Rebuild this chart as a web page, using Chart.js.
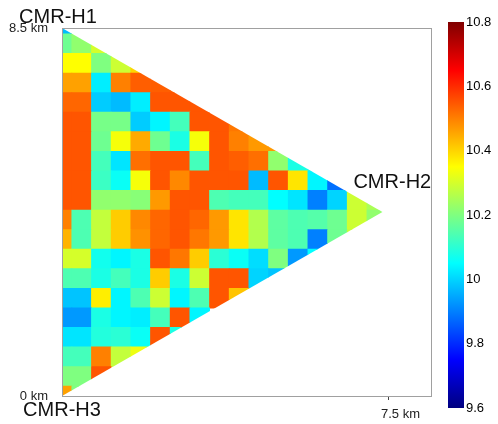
<!DOCTYPE html>
<html lang="en">
<head>
<meta charset="UTF-8">
<title>CMR triangle map</title>
<script src="https://cdn.jsdelivr.net/npm/chart.js@4/dist/chart.umd.min.js"></script>
<style>
  body { margin: 0; background: #fff; }
  #wrap { position: relative; width: 498px; height: 424px; }
  #wrap canvas { position: absolute; left: 0; top: 0; }
</style>
</head>
<body>
<div id="wrap">
  <canvas id="map" width="498" height="424"></canvas>
  <canvas id="bar" width="498" height="424"></canvas>
</div>

<script>
// grid values, top row first (y = 8.5 km side) down to y = 0; column 0 is x = 0
const cellValues = [
  [9.97],
  [10.18, 10.22, 10.30],
  [10.35, 10.35, 10.20, 10.29, 10.40],
  [10.46, 10.46, 10.03, 10.50, 10.54, 10.54, 10.54],
  [10.53, 10.53, 9.99, 9.97, 10.03, 10.55, 10.55, 10.55],
  [10.55, 10.55, 10.19, 10.19, 9.99, 10.04, 10.13, 10.55, 10.55, 10.51],
  [10.55, 10.55, 10.18, 10.34, 10.45, 10.18, 10.08, 10.34, 10.55, 10.50, 10.47, 10.47],
  [10.55, 10.55, 10.13, 10.02, 10.52, 10.55, 10.55, 10.13, 10.55, 10.54, 10.52, 10.22, 10.08, 10.08],
  [10.55, 10.55, 10.12, 10.06, 10.34, 10.55, 10.49, 10.55, 10.55, 10.55, 9.97, 10.55, 10.38, 10.04, 9.88],
  [10.55, 10.55, 10.22, 10.22, 10.21, 10.47, 10.55, 10.55, 10.14, 10.13, 10.13, 10.05, 10.02, 9.90, 10.00, 10.29, 10.25],
  [10.50, 10.14, 10.28, 10.41, 10.49, 10.53, 10.55, 10.53, 10.47, 10.38, 10.26, 10.16, 10.14, 10.15, 10.18, 10.29, 10.22],
  [10.44, 10.14, 10.28, 10.41, 10.48, 10.53, 10.55, 10.51, 10.47, 10.38, 10.26, 10.16, 10.14, 9.90, 10.18, 10.28],
  [10.30, 10.30, 10.07, 10.04, 10.08, 10.55, 10.51, 10.41, 10.10, 10.06, 10.01, 10.20, 9.93, 10.05],
  [10.14, 10.14, 10.08, 10.13, 10.08, 10.41, 10.08, 10.29, 10.55, 10.55, 10.00, 9.98],
  [9.98, 9.98, 10.37, 10.04, 10.14, 10.29, 10.04, 10.14, 10.55, 10.42],
  [9.93, 9.93, 10.08, 10.04, 10.03, 10.13, 10.55, 10.04],
  [10.02, 10.02, 10.09, 10.10, 10.06, 10.55, 10.08],
  [10.13, 10.13, 10.50, 10.28, 10.33],
  [10.20, 10.20, 10.55],
  [10.46, 10.20]
];
const cellStep = 0.452;           // km between grid nodes
const side = 8.5;                 // km, triangle side
const stations = ['CMR-H1', 'CMR-H2', 'CMR-H3'];
const xTicks = [7.5];
const yTicks = [0, 8.5];
const cbMin = 9.6, cbMax = 10.8;
const cbTicks = [9.6, 9.8, 10, 10.2, 10.4, 10.6, 10.8];

Chart.defaults.font.family = "'Liberation Sans', Arial, sans-serif";

function jet(v) {
  const t = Math.min(1, Math.max(0, (v - cbMin) / (cbMax - cbMin)));
  const c = f => Math.round(255 * Math.min(1, Math.max(0, f)));
  const r = c(Math.min(4 * t - 1.5, -4 * t + 4.5));
  const g = c(Math.min(4 * t - 0.5, -4 * t + 3.5));
  const b = c(Math.min(4 * t + 0.5, -4 * t + 2.5));
  return `rgb(${r},${g},${b})`;
}

const points = [];
const nRows = cellValues.length;
cellValues.forEach((row, i) => {
  const j = nRows - 1 - i;
  row.forEach((v, k) => {
    if (v != null) points.push({ x: k * cellStep, y: j * cellStep, v: v });
  });
});

const tip = { x: side * Math.sqrt(3) / 2, y: side / 2 };

const triangleClip = {
  id: 'triangleClip',
  beforeDatasetsDraw(chart) {
    const { ctx, scales: { x, y } } = chart;
    ctx.save();
    ctx.beginPath();
    ctx.moveTo(x.getPixelForValue(0), y.getPixelForValue(0));
    ctx.lineTo(x.getPixelForValue(0), y.getPixelForValue(side));
    ctx.lineTo(x.getPixelForValue(tip.x), y.getPixelForValue(tip.y));
    ctx.closePath();
    ctx.clip();
  },
  afterDatasetsDraw(chart) {
    chart.ctx.restore();
  },
  afterDraw(chart) {
    const { ctx, chartArea: a, scales: { x, y } } = chart;
    ctx.save();
    ctx.strokeStyle = '#a0a0a0';
    ctx.lineWidth = 1;
    ctx.strokeRect(a.left + 0.5, a.top + 0.5, a.right - a.left - 1, a.bottom - a.top);
    // station names at the triangle corners
    ctx.fillStyle = '#111';
    ctx.font = "20px 'Liberation Sans', Arial, sans-serif";
    ctx.textBaseline = 'alphabetic';
    ctx.textAlign = 'center';
    ctx.fillText(stations[0], x.getPixelForValue(0) - 4, y.getPixelForValue(side) - 5);
    ctx.fillText(stations[2], x.getPixelForValue(0), y.getPixelForValue(0) + 20);
    ctx.textAlign = 'left';
    ctx.fillText(stations[1], x.getPixelForValue(tip.x) - 29, y.getPixelForValue(tip.y) - 24);
    ctx.restore();
  }
};

new Chart(document.getElementById('map'), {
  type: 'scatter',
  data: {
    datasets: [{
      data: points,
      pointStyle: 'rect',
      borderWidth: 0,
      backgroundColor: c => jet(c.raw.v),
      pointRadius: c => {
        const s = c.chart.scales.x;
        const px = Math.abs(s.getPixelForValue(cellStep) - s.getPixelForValue(0));
        return (px + 0.8) / Math.SQRT2;
      },
      pointHoverRadius: c => {
        const s = c.chart.scales.x;
        const px = Math.abs(s.getPixelForValue(cellStep) - s.getPixelForValue(0));
        return (px + 0.8) / Math.SQRT2;
      }
    }]
  },
  options: {
    responsive: false,
    animation: false,
    devicePixelRatio: 1,
    layout: { padding: { left: 0, top: 28, right: 66, bottom: 0 } },
    plugins: { legend: { display: false }, tooltip: { enabled: false } },
    scales: {
      x: {
        type: 'linear', min: 0, max: side,
        afterBuildTicks: s => { s.ticks = xTicks.map(v => ({ value: v })); },
        afterFit: s => { s.height = 28; },
        ticks: {
          callback: v => v + ' km',
          font: { size: 13 }, color: '#222',
          padding: 7, labelOffset: 12, maxRotation: 0
        },
        grid: { display: true, drawOnChartArea: false, drawTicks: true, tickLength: 4, color: '#444' },
        border: { display: false }
      },
      y: {
        type: 'linear', min: 0, max: side,
        afterBuildTicks: s => { s.ticks = yTicks.map(v => ({ value: v })); },
        afterFit: s => { s.width = 62; },
        ticks: {
          callback: v => v + ' km',
          font: { size: 13 }, color: '#222', padding: 6
        },
        grid: { display: false },
        border: { display: false }
      }
    }
  },
  plugins: [triangleClip]
});

// colour bar
new Chart(document.getElementById('bar'), {
  type: 'bar',
  data: {
    labels: [''],
    datasets: [{
      data: [[cbMin, cbMax]],
      borderWidth: 0,
      barPercentage: 1,
      categoryPercentage: 1,
      backgroundColor: c => {
        const a = c.chart.chartArea;
        if (!a) return jet(10.2);
        const g = c.chart.ctx.createLinearGradient(0, a.bottom, 0, a.top);
        for (let i = 0; i <= 32; i++) {
          g.addColorStop(i / 32, jet(cbMin + (cbMax - cbMin) * i / 32));
        }
        return g;
      }
    }]
  },
  options: {
    responsive: false,
    animation: false,
    devicePixelRatio: 1,
    layout: { padding: { left: 448, top: 22, right: 0, bottom: 16 } },
    plugins: { legend: { display: false }, tooltip: { enabled: false } },
    scales: {
      x: { display: false },
      y: {
        position: 'right', min: cbMin, max: cbMax,
        afterBuildTicks: s => { s.ticks = cbTicks.map(v => ({ value: v })); },
        afterFit: s => { s.width = 34; },
        ticks: {
          callback: v => String(Math.round(v * 10) / 10),
          font: { size: 13 }, color: '#000', padding: 2
        },
        grid: {
          drawOnChartArea: true, drawTicks: false,
          color: c => (c.tick && (c.tick.value === cbMin || c.tick.value === cbMax)) ? 'rgba(0,0,0,0)' : 'rgba(40,40,40,0.8)'
        },
        border: { display: false, dash: [3, 10] }
      }
    }
  }
});
</script>
</body>
</html>
